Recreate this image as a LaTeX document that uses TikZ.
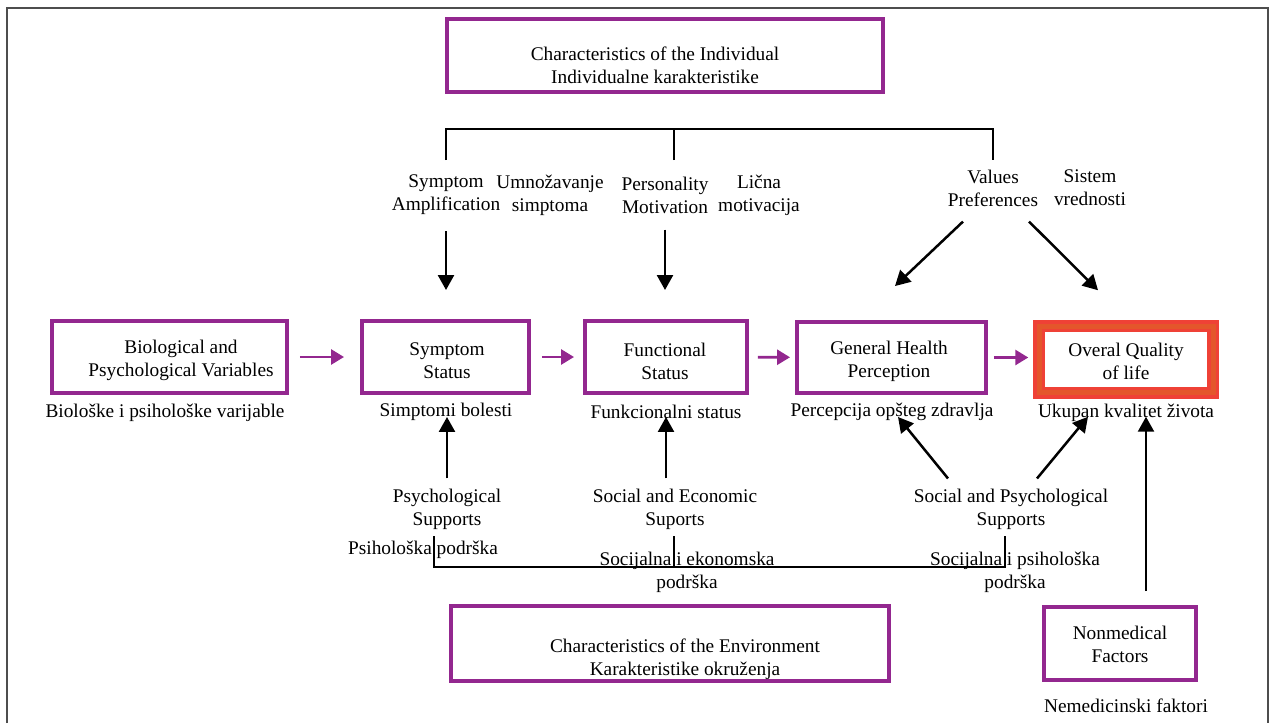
\documentclass[tikz,border=0pt]{standalone}
\usepackage{fontspec}
\setmainfont{Liberation Serif}
\usetikzlibrary{arrows.meta}

\definecolor{boxpurple}{HTML}{93278F}
\definecolor{qolred}{HTML}{EF4136}
\definecolor{qolorange}{HTML}{E4562B}
\definecolor{framegray}{HTML}{4D4D4D}

\tikzset{
  box/.style={draw=boxpurple, line width=0.08cm, inner sep=0pt},
  txt/.style={align=center, inner sep=0pt, yshift=-0.06cm, font=\fontsize{11}{13}\selectfont},
  bracketline/.style={line width=0.05cm},
  conn/.style={line width=0.05cm, -{Triangle[length=0.3cm,width=0.32cm]}},
  flow/.style={draw=boxpurple, line width=0.055cm, -{Triangle[length=0.26cm,width=0.3cm]}}
}

\begin{document}
\begin{tikzpicture}[x=0.02cm, y=-0.02cm]
\useasboundingbox (0,0) rectangle (1273,723);
\draw[framegray, line width=0.03cm] (7,723) -- (7,8) -- (1268,8) -- (1268,723);

% boxes
\node[box, minimum width=8.72cm, minimum height=1.46cm] (indiv) at (665,55.5) {};
\node[box, minimum width=4.70cm, minimum height=1.44cm] (bio) at (169.5,357) {};
\node[box, minimum width=3.34cm, minimum height=1.44cm] (symp) at (445.5,357) {};
\node[box, minimum width=3.24cm, minimum height=1.44cm] (func) at (666,357) {};
\node[box, minimum width=3.78cm, minimum height=1.42cm] (gen) at (891.5,357.5) {};
\node[draw=qolred, line width=0.07cm, double=qolorange, double distance=0.1cm,
      inner sep=0pt, minimum width=3.48cm, minimum height=1.34cm] (qol) at (1126,359.5) {};
\node[box, minimum width=8.76cm, minimum height=1.50cm] (env) at (670,643.5) {};
\node[box, minimum width=3.04cm, minimum height=1.46cm] (nonmed) at (1120,643.5) {};

% box texts
\node[txt] (indivtxt) at (655,62) {Characteristics of the Individual\\Individualne karakteristike};
\node[txt] (biotxt) at (181,357.5) {Biological and\\Psychological Variables};
\node[txt] (symptxt) at (447,358) {Symptom\\Status};
\node[txt] (functxt) at (665,358) {Functional\\Status};
\node[txt] (gentxt) at (889,358) {General Health\\Perception};
\node[txt] (qoltxt) at (1126,358) {Overal Quality\\of life};
\node[txt] (envtxt) at (685,656.5) {Characteristics of the Environment\\Karakteristike okruženja};
\node[txt] (nonmedtxt) at (1120,641.5) {Nonmedical\\Factors};

% captions
\node[txt] (biocap) at (165,410) {Biološke i psihološke varijable};
\node[txt] (sympcap) at (446,409) {Simptomi bolesti};
\node[txt] (funccap) at (666,409) {Funkcionalni status};
\node[txt] (gencap) at (892,409) {Percepcija opšteg zdravlja};
\node[txt] (qolcap) at (1126,410) {Ukupan kvalitet života};
\node[txt] (nonmedcap) at (1126,703) {Nemedicinski faktori};

% individual factors
\node[txt] (symamp) at (446,192) {Symptom\\Amplification};
\node[txt] (umnoz) at (550,192) {Umnožavanje\\simptoma};
\node[txt] (persmot) at (665,192) {Personality\\Motivation};
\node[txt] (licna) at (759,192) {Lična\\motivacija};
\node[txt] (values) at (993,185) {Values\\Preferences};
\node[txt] (sistem) at (1090,185) {Sistem\\vrednosti};

% environment factors
\node[txt] (psysup) at (447,506) {Psychological\\Supports};
\node[txt] (psypod) at (423,547) {Psihološka podrška};
\node[txt] (socecon) at (675,506) {Social and Economic\\Suports};
\node[txt] (socekon) at (687,569) {Socijalna i ekonomska\\podrška};
\node[txt] (socpsy) at (1011,506) {Social and Psychological\\Supports};
\node[txt] (socpsih) at (1015,569) {Socijalna i psihološka\\podrška};

% brackets
\coordinate (tl) at (446,160);
\coordinate (tm) at (674,160);
\coordinate (tr) at (993,160);
\coordinate (topbar) at (674,129);
\draw[bracketline] (tl) |- (topbar) -| (tr);
\draw[bracketline] (tm) -- (topbar);

\coordinate (bl) at (434,536);
\coordinate (bm) at (674,536);
\coordinate (br) at (1005,536);
\coordinate (botbar) at (674,567);
\draw[bracketline] (bl) |- (botbar) -| (br);
\draw[bracketline] (bm) -- (botbar);

% main flow
\draw[flow, shorten <=0.22cm, shorten >=0.32cm] (bio) -- (symp);
\draw[flow, shorten <=0.22cm, shorten >=0.18cm] (symp) -- (func);
\draw[flow, shorten <=0.18cm, shorten >=0.10cm] (func) -- (gen);
\draw[flow, shorten <=0.12cm, shorten >=0.18cm] (gen.east) -- (gen.east -| qol.west);

% influences from above
\draw[conn, shorten <=0.32cm, shorten >=0.58cm] (symamp.south) -- (symamp.south |- symp.north);
\draw[conn, shorten <=0.32cm, shorten >=0.58cm] (persmot.south) -- (persmot.south |- func.north);
\draw[conn] ([shift={(-30,15)}]values.south) -- ([shift={(3.5,-34)}]gen.north);
\draw[conn] ([shift={(36,15)}]values.south) -- ([shift={(-28,-34)}]qol.north);

% influences from below
\draw[conn, shorten <=0.2cm, shorten >=0.44cm] (psysup.north) -- (psysup.north |- symp.south);
\draw[conn, shorten <=0.2cm, shorten >=0.44cm] (socecon.north -| func) -- (func.south);
\draw[conn] ([shift={(-63,-10)}]socpsy.north) -- ([shift={(6.5,22)}]gen.south);
\draw[conn] ([shift={(26,-10)}]socpsy.north) -- ([shift={(-38,22)}]qol.south);
\draw[conn, shorten <=0.28cm, shorten >=0.44cm] ([xshift=0.52cm]nonmed.north) -- ([xshift=0.52cm]nonmed.north |- qol.south);
\end{tikzpicture}
\end{document}
